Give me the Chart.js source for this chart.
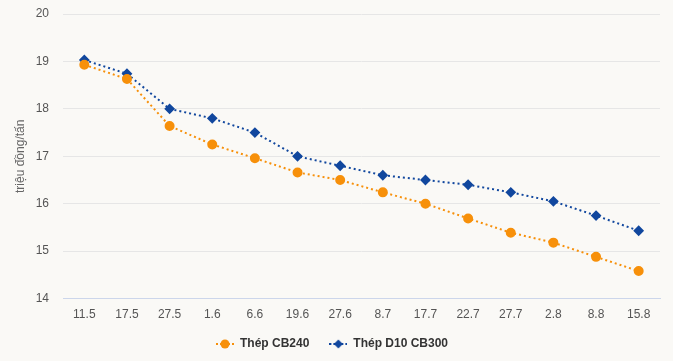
<!DOCTYPE html>
<html>
<head>
<meta charset="utf-8">
<script src="https://cdn.jsdelivr.net/npm/chart.js@4"></script>
<style>
  html, body { margin: 0; padding: 0; background: #faf9f6; }
  #wrap { width: 673px; height: 361px; }
</style>
</head>
<body>
<div id="wrap"><canvas id="myChart"></canvas></div>
<script>
// Dữ liệu giá thép (triệu đồng/tấn)
const labels = ['11.5', '17.5', '27.5', '1.6', '6.6', '19.6', '27.6', '8.7', '17.7', '22.7', '27.7', '2.8', '8.8', '15.8'];
const cb240 = [18.93, 18.63, 17.64, 17.25, 16.96, 16.66, 16.5, 16.24, 16.0, 15.69, 15.39, 15.18, 14.88, 14.58];
const d10cb300 = [19.03, 18.74, 18.0, 17.8, 17.5, 17.0, 16.8, 16.6, 16.5, 16.4, 16.24, 16.05, 15.75, 15.43];
const yTicks = [14, 15, 16, 17, 18, 19, 20];

const orange = '#f7900a';
const blue = '#11479e';

// Biểu tượng chú thích: đường chấm + điểm
function legendIcon(color, shape) {
    const c = document.createElement('canvas');
    c.width = 18;
    c.height = 10;
    const g = c.getContext('2d');
    g.strokeStyle = color;
    g.lineWidth = 2;
    g.setLineDash([2, 2]);
    g.beginPath();
    g.moveTo(0, 5);
    g.lineTo(18, 5);
    g.stroke();
    g.fillStyle = color;
    g.beginPath();
    if (shape === 'circle') {
        g.arc(9, 5, 4.5, 0, Math.PI * 2);
    } else {
        g.moveTo(9, 0.5); g.lineTo(13.5, 5); g.lineTo(9, 9.5); g.lineTo(4.5, 5); g.closePath();
    }
    g.fill();
    return c;
}

var ctx = document.getElementById('myChart').getContext('2d');
var myChart = new Chart(ctx, {
    type: 'line',
    data: {
        labels: labels,
        datasets: [{
            label: 'Thép CB240',
            data: cb240,
            borderColor: orange,
            backgroundColor: orange,
            borderWidth: 2,
            borderDash: [2, 3],
            pointStyle: 'circle',
            pointRadius: 4,
            pointHoverRadius: 5
        }, {
            label: 'Thép D10 CB300',
            data: d10cb300,
            borderColor: blue,
            backgroundColor: blue,
            borderWidth: 2,
            borderDash: [2, 3],
            pointStyle: 'rectRot',
            pointRadius: 4,
            pointHoverRadius: 5
        }]
    },
    options: {
        responsive: true,
        maintainAspectRatio: false,
        animation: false,
        layout: { padding: { top: 14, right: 13, left: 4, bottom: 1 } },
        plugins: {
            legend: {
                position: 'bottom',
                labels: {
                    usePointStyle: true,
                    pointStyleWidth: 18,
                    boxHeight: 10,
                    padding: 20,
                    color: '#333',
                    font: { family: 'Liberation Sans, Arial', size: 12, weight: 'bold' },
                    generateLabels: (chart) => {
                        const items = Chart.defaults.plugins.legend.labels.generateLabels(chart);
                        items[0].pointStyle = legendIcon(orange, 'circle');
                        items[1].pointStyle = legendIcon(blue, 'diamond');
                        return items;
                    }
                }
            },
            tooltip: { enabled: true }
        },
        scales: {
            x: {
                offset: true,
                grid: { display: false, drawTicks: false },
                border: { color: '#ccd6eb' },
                afterFit: (scale) => { scale.height = scale.height - 13; },
                ticks: {
                    color: '#555',
                    padding: 9,
                    maxRotation: 0,
                    autoSkip: false,
                    font: { family: 'Liberation Sans, Arial', size: 12 }
                }
            },
            y: {
                min: 14,
                max: 20,
                afterBuildTicks: (scale) => {
                    scale.ticks = yTicks.map(v => ({ value: v }));
                },
                afterFit: (scale) => { scale.width = 59; },
                grid: { color: '#e6e6e6', drawTicks: true, tickLength: 12, tickColor: 'rgba(0,0,0,0)' },
                border: { display: false },
                ticks: {
                    color: '#555',
                    padding: 2,
                    font: { family: 'Liberation Sans, Arial', size: 12 }
                },
                title: {
                    display: true,
                    text: 'triệu đồng/tấn',
                    color: '#666',
                    padding: { top: 9, bottom: 0 },
                    font: { family: 'Liberation Sans, Arial', size: 12 }
                }
            }
        }
    }
});
</script>
</body>
</html>
